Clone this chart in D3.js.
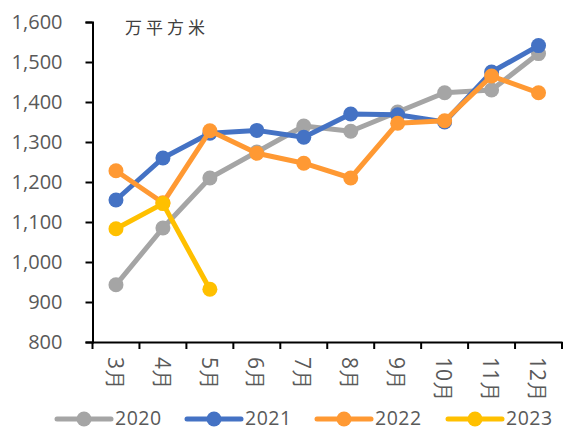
<!DOCTYPE html>
<html><head><meta charset="utf-8">
<script src="https://cdn.jsdelivr.net/npm/d3@7"></script>
<style>body{margin:0;background:#fff}svg{display:block}</style>
</head><body><div id="c"></div>
<script>
const months = ["3月","4月","5月","6月","7月","8月","9月","10月","11月","12月"];
const s2020 = [943,1085,1210,1275,1340,1327,1375,1423,1430,1521];
const s2021 = [1155,1260,1322,1329,1312,1370,1368,1350,1475,1541];
const s2022 = [1228,1148,1328,1272,1247,1210,1347,1353,1465,1423];
const s2023 = [1083,1146,932];
const seriesNames = ["2020","2021","2022","2023"];
const seriesColors = ["#A5A5A5","#4472C4","#FF9933","#FFC000"];
const yTicks = [800,900,1000,1100,1200,1300,1400,1500,1600];
const unitLabel = "万平方米";

const W=563,H=430;
const svg=d3.select("#c").append("svg").attr("width",W).attr("height",H);
const x=d3.scaleBand().domain(months).range([92.5,562]).padding(0);
const y=d3.scaleLinear().domain([800,1600]).range([342,22]);
const font="'Open Sans', 'Liberation Sans', sans-serif";

const data=[s2020,s2021,s2022,s2023];
// axes
const yAx=svg.append("g").attr("transform","translate(92.5,0)")
  .call(d3.axisLeft(y).tickValues(yTicks).tickSize(7).tickFormat(d3.format(",")));
yAx.select(".domain").attr("stroke","#000").attr("stroke-width",2);
yAx.selectAll(".tick line").attr("stroke","#000").attr("stroke-width",2);
yAx.selectAll("text").attr("x",-30).attr("font-family",font).attr("font-size",20).attr("fill","#595959");

const xAx=svg.append("g").attr("transform","translate(0,342)")
  .call(d3.axisBottom(x).tickSizeOuter(0).tickSize(0));
xAx.select(".domain").attr("stroke","#000").attr("stroke-width",2);
xAx.selectAll(".tick text").remove();
// category boundary ticks
const bounds=months.map(m=>x(m)).concat([x(months[months.length-1])+x.bandwidth()]);
svg.append("g").selectAll("line").data(bounds).join("line")
  .attr("x1",d=>d).attr("x2",d=>d).attr("y1",342).attr("y2",349)
  .attr("stroke","#000").attr("stroke-width",2);
svg.append("g").selectAll("text").data(months).join("text")
  .attr("transform",d=>`translate(${x(d)+x.bandwidth()/2-1},357) rotate(90)`)
  .attr("dy","0.35em").attr("text-anchor","start")
  .attr("font-family",font).attr("font-size",21).attr("fill","#595959").text(d=>d);

// lines
const line=d3.line().x((d,i)=>x(months[i])+x.bandwidth()/2).y(d=>y(d));
data.forEach((arr,k)=>{
  const g=svg.append("g");
  g.append("path").datum(arr).attr("d",line).attr("fill","none")
    .attr("stroke",seriesColors[k]).attr("stroke-width",5).attr("stroke-linejoin","round");
  g.selectAll("circle").data(arr).join("circle")
    .attr("cx",(d,i)=>x(months[i])+x.bandwidth()/2).attr("cy",d=>y(d)).attr("r",7.5)
    .attr("fill",seriesColors[k]);
});

svg.append("text").attr("x",125).attr("y",34).attr("font-family","'Noto Sans CJK SC',sans-serif")
  .attr("font-size",17).attr("letter-spacing",4).attr("fill","#404040").text(unitLabel);

// legend
const legX=[57,187,317,448];
const legY=419;
const leg=svg.append("g");
seriesNames.forEach((n,k)=>{
  leg.append("line").attr("x1",legX[k]).attr("x2",legX[k]+54).attr("y1",legY).attr("y2",legY)
    .attr("stroke",seriesColors[k]).attr("stroke-width",5).attr("stroke-linecap","round");
  leg.append("circle").attr("cx",legX[k]+27).attr("cy",legY).attr("r",7.5).attr("fill",seriesColors[k]);
  leg.append("text").attr("x",legX[k]+58).attr("y",424.5).attr("font-family",font).attr("font-size",19.5)
    .attr("letter-spacing",0.5).attr("fill","#595959").text(n);
});
</script></body></html>
